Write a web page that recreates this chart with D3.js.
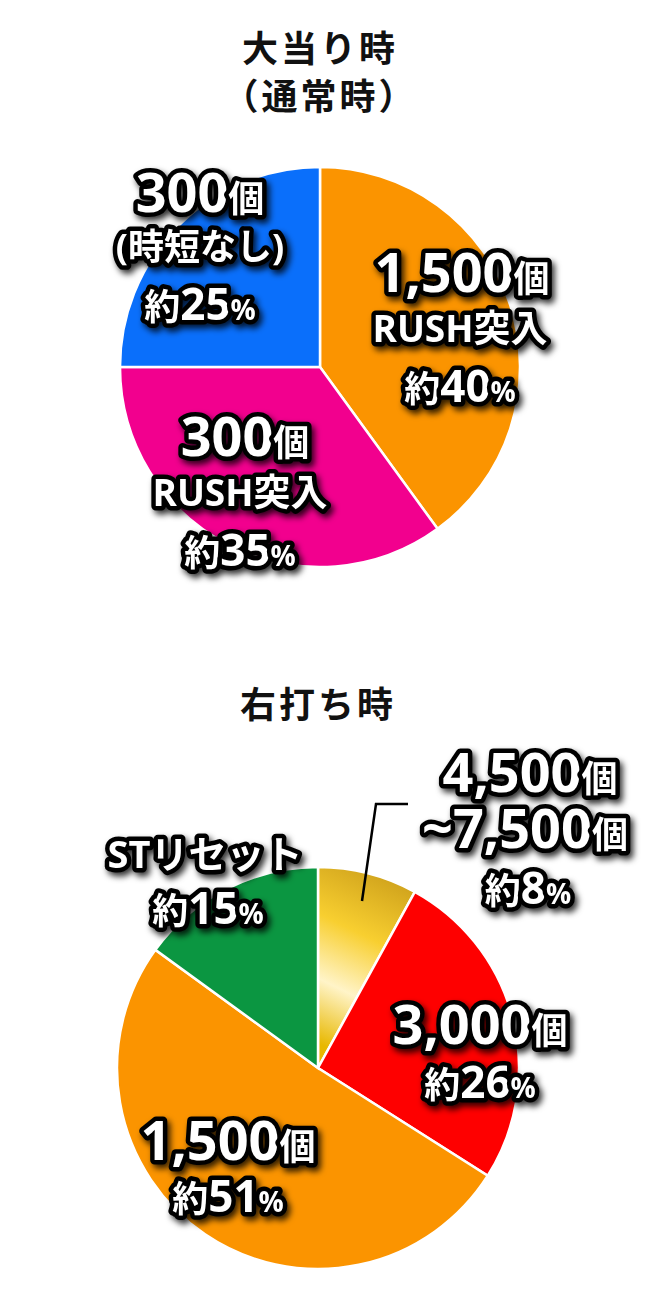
<!DOCTYPE html>
<html><head><meta charset="utf-8">
<script src="https://cdn.jsdelivr.net/npm/d3@7"></script>
<style>body{margin:0;background:#fff}</style>
</head><body>
<script>
// data
var pie1Names = ["1,500個 RUSH突入", "300個 RUSH突入", "300個 時短なし"];
var pie1Values = [40, 35, 25];
var pie1Colors = ["#fb9400", "#f2008e", "#0a6ffb"];
var pie2Names = ["4,500〜7,500個", "3,000個", "1,500個", "STリセット"];
var pie2Values = [8, 26, 51, 15];
var pie2Colors = ["url(#gold)", "#fe0000", "#fb9400", "#0b9641"];

var svg = d3.select("body").append("svg").attr("width", 667).attr("height", 1300);
var defs = svg.append("defs");
// gradient coords are relative to the pie centre
var g = defs.append("linearGradient").attr("id", "gold")
    .attr("gradientUnits", "userSpaceOnUse")
    .attr("x1", 10).attr("y1", -20).attr("x2", 95).attr("y2", -195);
[["0", "#e8b800"], ["0.3", "#fff4c8"], ["0.6", "#f8cf30"], ["1", "#c89a18"]].forEach(function(s) {
    g.append("stop").attr("offset", s[0]).attr("stop-color", s[1]);
});
var f = defs.append("filter").attr("id", "sh").attr("x", "-20%").attr("y", "-30%").attr("width", "140%").attr("height", "160%");
f.append("feDropShadow").attr("dx", 3).attr("dy", 4).attr("stdDeviation", 3).attr("flood-color", "#000").attr("flood-opacity", 0.8);

function drawPie(cx, cy, r, values, colors) {
    var pie = d3.pie().sort(null)(values);
    var arc = d3.arc().innerRadius(0).outerRadius(r);
    svg.append("g").attr("transform", "translate(" + cx + "," + cy + ")")
        .selectAll("path").data(pie).join("path")
        .attr("d", arc).attr("fill", function(d, i) { return colors[i]; })
        .attr("stroke", "#fff").attr("stroke-width", 2.5);
}
drawPie(320, 367, 200, pie1Values, pie1Colors);
drawPie(318, 1068, 201, pie2Values, pie2Colors);

var FONT = "'Open Sans','Noto Sans CJK JP',sans-serif";
function title(x, y, t) {
    svg.append("text").attr("x", x).attr("y", y).attr("text-anchor", "middle")
        .attr("font-family", "'Noto Sans CJK JP',sans-serif").attr("font-weight", 700)
        .attr("font-size", 36).attr("letter-spacing", 3).attr("fill", "#111").text(t);
}
title(320, 62, "大当り時");
title(320, 110, "（通常時）");
title(318, 718, "右打ち時");

// parts: [text, size]
function label(x, y, parts) {
    var t = svg.append("text").attr("x", x).attr("y", y).attr("text-anchor", "middle")
        .attr("font-family", FONT).attr("font-weight", 700)
        .attr("fill", "#fff").attr("stroke", "#000").attr("stroke-width", 9)
        .attr("stroke-linejoin", "round").attr("paint-order", "stroke")
        .attr("filter", "url(#sh)");
    parts.forEach(function(p) { t.append("tspan").attr("font-size", p[1]).text(p[0]); });
}
label(200, 212, [["300", 54], ["個", 36]]);
label(200, 260, [["(時短なし)", 36]]);
label(200, 320, [["約", 36], ["25", 44], ["%", 28]]);
label(462, 292, [["1,500", 54], ["個", 36]]);
label(460, 342, [["RUSH突入", 37]]);
label(460, 402, [["約", 36], ["40", 44], ["%", 28]]);
label(245, 456, [["300", 54], ["個", 36]]);
label(240, 506, [["RUSH突入", 37]]);
label(240, 566, [["約", 36], ["35", 44], ["%", 28]]);

label(530, 792, [["4,500", 54], ["個", 36]]);
label(525, 848, [["~7,500", 54], ["個", 36]]);
label(528, 904, [["約", 36], ["8", 44], ["%", 28]]);
label(205, 868, [["STリセット", 38]]);
label(208, 924, [["約", 36], ["15", 44], ["%", 28]]);
label(480, 1044, [["3,000", 54], ["個", 36]]);
label(480, 1098, [["約", 36], ["26", 44], ["%", 28]]);
label(228, 1160, [["1,500", 54], ["個", 36]]);
label(228, 1212, [["約", 36], ["51", 44], ["%", 28]]);

svg.append("path").attr("d", "M362,901L376,804L408,804").attr("fill", "none")
    .attr("stroke", "#000").attr("stroke-width", 2.5);
</script>
</body></html>
